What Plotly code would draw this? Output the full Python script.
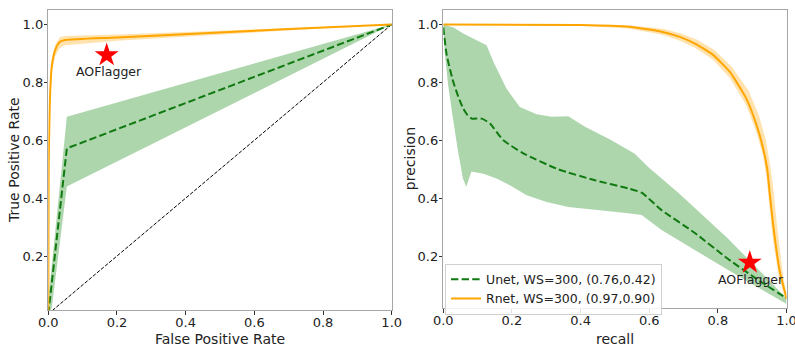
import plotly.graph_objects as go

# ---------------- ROC curves ----------------
# Rnet (mean curve and band)
roc_rnet_fpr = [0, 0.001, 0.003, 0.005, 0.01, 0.02, 0.034, 0.049, 0.2, 0.44, 0.7, 1.0]
roc_rnet_tpr = [0, 0.5, 0.65, 0.75, 0.854, 0.911, 0.94, 0.946, 0.955, 0.969, 0.984, 1.0]
roc_rnet_tpr_hi = [0, 0.55, 0.70, 0.79, 0.875, 0.93, 0.957, 0.96, 0.965, 0.976, 0.988, 1.0]
roc_rnet_tpr_lo = [0, 0.45, 0.60, 0.71, 0.83, 0.89, 0.92, 0.928, 0.944, 0.961, 0.979, 1.0]

# Unet (mean curve and band)
roc_unet_fpr = [0, 0.054, 1.0]
roc_unet_tpr = [0, 0.572, 1.0]
roc_unet_hi_fpr = [0, 0, 0.054, 1.0]
roc_unet_hi_tpr = [0, 0.048, 0.681, 1.0]
roc_unet_lo_fpr = [0, 0.01, 0.054, 1.0]
roc_unet_lo_tpr = [0, 0.02, 0.44, 1.0]

chance_x = [0, 1]
chance_y = [0, 1]

# ---------------- Precision-recall curves ----------------
pr_rnet_recall = [0, 0.4, 0.54, 0.636, 0.689, 0.733, 0.786, 0.835, 0.883, 0.913,
                  0.932, 0.944, 0.95, 0.961, 0.98, 1.0]
pr_rnet_prec = [1.0, 0.998, 0.992, 0.975, 0.957, 0.934, 0.895, 0.836, 0.744, 0.652,
                0.572, 0.50, 0.43, 0.31, 0.15, 0.055]
pr_rnet_hi_recall = [0, 0.4, 0.54, 0.64, 0.69, 0.74, 0.79, 0.84, 0.89, 0.92,
                     0.94, 0.953, 0.962, 0.972, 0.988, 1.0]
pr_rnet_hi_prec = [1.0, 1.0, 0.997, 0.985, 0.97, 0.947, 0.912, 0.855, 0.77, 0.685,
                   0.60, 0.51, 0.43, 0.31, 0.15, 0.065]
pr_rnet_lo_recall = [0, 0.4, 0.54, 0.636, 0.689, 0.733, 0.786, 0.835, 0.883, 0.913,
                     0.932, 0.942, 0.948, 0.958, 0.977, 0.998]
pr_rnet_lo_prec = [1.0, 0.996, 0.986, 0.965, 0.944, 0.92, 0.878, 0.815, 0.72, 0.625,
                   0.545, 0.47, 0.40, 0.28, 0.13, 0.045]

pr_unet_recall = [0, 0.01, 0.029, 0.044, 0.058, 0.07, 0.083, 0.112, 0.136, 0.175,
                  0.233, 0.335, 0.442, 0.539, 0.578, 0.636, 0.733, 0.83, 0.927, 1.0]
pr_unet_prec = [0.99, 0.894, 0.802, 0.75, 0.71, 0.688, 0.675, 0.675, 0.658, 0.6,
                0.555, 0.5, 0.462, 0.434, 0.419, 0.359, 0.28, 0.19, 0.11, 0.055]
pr_unet_hi_recall = [0, 0.03, 0.058, 0.126, 0.146, 0.184, 0.223, 0.272, 0.316, 0.364,
                     0.413, 0.49, 0.558, 0.597, 0.684, 0.83, 1.0]
pr_unet_hi_prec = [1.0, 0.99, 0.969, 0.928, 0.871, 0.779, 0.715, 0.69, 0.681, 0.683,
                   0.647, 0.6, 0.554, 0.508, 0.42, 0.26, 0.055]
pr_unet_lo_recall = [0, 0.004, 0.014, 0.028, 0.043, 0.057, 0.067, 0.082, 0.117, 0.155,
                     0.194, 0.243, 0.301, 0.364, 0.539, 0.578, 0.636, 0.718, 0.83, 1.0]
pr_unet_lo_prec = [1.0, 0.907, 0.791, 0.676, 0.561, 0.469, 0.44, 0.492, 0.485, 0.468,
                   0.445, 0.41, 0.387, 0.37, 0.348, 0.342, 0.29, 0.232, 0.152, 0.035]

# AOFlagger operating points
aof_roc = (0.17, 0.894)
aof_pr = (0.893, 0.178)
aof_name = "AOFlagger"

legend_unet = "Unet, WS=300, (0.76,0.42)"
legend_rnet = "Rnet, WS=300, (0.97,0.90)"

ticks = [0.0, 0.2, 0.4, 0.6, 0.8, 1.0]
yticks = [0.2, 0.4, 0.6, 0.8, 1.0]

ORANGE = "#FFA500"
ORANGE_BAND = "rgba(255,165,0,0.32)"
GREEN = "#107a10"
GREEN_BAND = "rgba(0,128,0,0.32)"
FONT = "DejaVu Sans"
TEXT = "#222222"

W, H = 795, 347


def band(x_hi, y_hi, x_lo, y_lo, color, xa, ya):
    return go.Scatter(
        x=list(x_hi) + list(x_lo)[::-1],
        y=list(y_hi) + list(y_lo)[::-1],
        fill="toself", fillcolor=color, mode="lines",
        line=dict(width=0), hoverinfo="skip", showlegend=False,
        xaxis=xa, yaxis=ya,
    )


fig = go.Figure()

# ---- left panel: ROC ----
fig.add_trace(band(roc_unet_hi_fpr, roc_unet_hi_tpr, roc_unet_lo_fpr, roc_unet_lo_tpr,
                   GREEN_BAND, "x", "y"))
fig.add_trace(band(roc_rnet_fpr, roc_rnet_tpr_hi, roc_rnet_fpr, roc_rnet_tpr_lo,
                   ORANGE_BAND, "x", "y"))
fig.add_trace(go.Scatter(x=chance_x, y=chance_y, mode="lines",
                         line=dict(color="black", width=1, dash="3.7px,1.6px"),
                         showlegend=False, xaxis="x", yaxis="y"))
fig.add_trace(go.Scatter(x=roc_unet_fpr, y=roc_unet_tpr, mode="lines",
                         line=dict(color=GREEN, width=2, dash="7.4px,3.2px"),
                         showlegend=False, xaxis="x", yaxis="y"))
fig.add_trace(go.Scatter(x=roc_rnet_fpr, y=roc_rnet_tpr, mode="lines",
                         line=dict(color=ORANGE, width=2, shape="spline", smoothing=0.6),
                         showlegend=False, xaxis="x", yaxis="y"))
fig.add_trace(go.Scatter(x=[aof_roc[0]], y=[aof_roc[1]], mode="markers",
                         marker=dict(symbol="star", size=18, color="red",
                                     line=dict(width=0)),
                         showlegend=False, xaxis="x", yaxis="y"))

# ---- right panel: precision-recall ----
fig.add_trace(band(pr_unet_hi_recall, pr_unet_hi_prec, pr_unet_lo_recall, pr_unet_lo_prec,
                   GREEN_BAND, "x2", "y2"))
fig.add_trace(band(pr_rnet_hi_recall, pr_rnet_hi_prec, pr_rnet_lo_recall, pr_rnet_lo_prec,
                   ORANGE_BAND, "x2", "y2"))
fig.add_trace(go.Scatter(x=pr_unet_recall, y=pr_unet_prec, mode="lines", name=legend_unet,
                         line=dict(color=GREEN, width=2, dash="7.4px,3.2px",
                                   shape="spline", smoothing=0.5),
                         xaxis="x2", yaxis="y2"))
fig.add_trace(go.Scatter(x=pr_rnet_recall, y=pr_rnet_prec, mode="lines", name=legend_rnet,
                         line=dict(color=ORANGE, width=2, shape="spline", smoothing=0.5),
                         xaxis="x2", yaxis="y2"))
fig.add_trace(go.Scatter(x=[aof_pr[0]], y=[aof_pr[1]], mode="markers",
                         marker=dict(symbol="star", size=18, color="red",
                                     line=dict(width=0)),
                         showlegend=False, xaxis="x2", yaxis="y2"))

# ---- axes ----
axis_common = dict(
    showgrid=False, zeroline=False, showline=True, mirror=True,
    linecolor="#a6a6a6", linewidth=1, automargin=False,
    ticks="outside", ticklen=3.5, tickwidth=1, tickcolor="#333333",
    tickfont=dict(family=FONT, size=13, color=TEXT),
    tickformat=".1f", ticklabeloverflow="allow",
)
xaxis_extra = dict(ticklabelstandoff=-3)
yaxis_extra = dict(ticklabelstandoff=-2)

x_left = (48.3 / W, 391.7 / W)
x_right = (443.3 / W, 786.5 / W)
y_left = (1 - 310 / H, 1 - 10 / H)
y_right = (1 - 308.3 / H, 1 - 10 / H)

title_font = dict(family=FONT, size=14, color=TEXT)


def title_x(text, dom):
    return dict(x=(dom[0] + dom[1]) / 2, y=1 - 339 / H, xref="paper", yref="paper",
                text=text, showarrow=False, font=title_font,
                xanchor="center", yanchor="middle")


def title_y(text, xpix, dom):
    return dict(x=xpix / W, y=(dom[0] + dom[1]) / 2, xref="paper", yref="paper",
                text=text, showarrow=False, font=title_font, textangle=-90,
                xanchor="center", yanchor="middle")


fig.update_layout(
    width=W, height=H,
    margin=dict(l=0, r=0, t=0, b=0),
    paper_bgcolor="white", plot_bgcolor="white",
    font=dict(family=FONT, color=TEXT),
    xaxis=dict(axis_common, **xaxis_extra, domain=x_left, range=[0, 1],
               tickvals=ticks, anchor="y"),
    yaxis=dict(axis_common, **yaxis_extra, domain=y_left, range=[0.0135, 1.05],
               tickvals=yticks, anchor="x"),
    xaxis2=dict(axis_common, **xaxis_extra, domain=x_right, range=[0, 1],
                tickvals=ticks, anchor="y2"),
    yaxis2=dict(axis_common, **yaxis_extra, domain=y_right, range=[0.02, 1.05],
                tickvals=yticks, anchor="x2"),
    legend=dict(
        x=445 / W, y=1 - 263.5 / H, xanchor="left", yanchor="top",
        bgcolor="rgba(255,255,255,0.85)", bordercolor="#d0d0d0", borderwidth=1,
        font=dict(family=FONT, size=12.5, color=TEXT),
        itemwidth=30, tracegroupgap=0,
    ),
    annotations=[
        title_x("False Positive Rate", x_left),
        title_x("recall", x_right),
        title_y("True Positive Rate", 14, y_left),
        title_y("precision", 410, y_right),
        dict(x=aof_roc[0] + 0.007, y=aof_roc[1] - 0.055, xref="x", yref="y",
             text=aof_name, showarrow=False,
             font=dict(family=FONT, size=12.5, color=TEXT)),
        dict(x=aof_pr[0] + 0.004, y=aof_pr[1] - 0.06, xref="x2", yref="y2",
             text=aof_name, showarrow=False,
             font=dict(family=FONT, size=12.5, color=TEXT)),
    ],
)

fig.write_html("out.html")
